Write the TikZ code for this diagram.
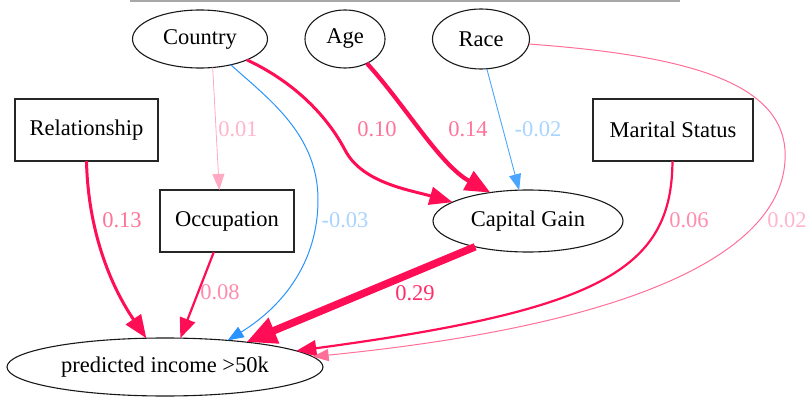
\documentclass[tikz,border=0pt]{standalone}
\usepackage{fontspec}
\setmainfont{Liberation Serif}
\usetikzlibrary{arrows.meta,shapes.geometric}

\definecolor{crimson}{HTML}{FF0D55}
\definecolor{rosepink}{HTML}{FF6F98}
\definecolor{palepink}{HTML}{FFA9C3}
\definecolor{skyblue}{HTML}{2A93FF}
\definecolor{lightsky}{HTML}{4AA5FF}
\definecolor{lblstrong}{HTML}{FF2D6A}
\definecolor{lblmid}{HTML}{FF7399}
\definecolor{lblsoft}{HTML}{FF8CAE}
\definecolor{lblpale}{HTML}{FFB5CB}
\definecolor{lblblue}{HTML}{A9D4FF}
\definecolor{framegray}{HTML}{A8A8A8}

\tikzset{
  txt/.style={font=\fontsize{22.5}{27}\selectfont},
  oval/.style={txt, ellipse, draw=black!90, line width=1.1pt, inner sep=0pt, outer sep=0pt},
  boxnode/.style={txt, rectangle, draw=black!85, line width=1.1pt, inner sep=0pt, outer sep=0pt},
  lbl/.style={txt, inner sep=0pt},
  tipA/.style={-{Triangle[length=16pt,width=12pt]}},
  tipB/.style={-{Triangle[length=20pt,width=16pt]}},
  tipC/.style={-{Triangle[length=23pt,width=18pt]}},
  tipD/.style={-{Triangle[length=25pt,width=21pt]}},
  tipE/.style={-{Triangle[length=30pt,width=26pt]}},
}

\begin{document}
\begin{tikzpicture}[x=1pt,y=-1pt]
\useasboundingbox (0,0) rectangle (806,398);

% frame rule along the top
\coordinate (ruleL) at (130,1);
\coordinate (ruleR) at (680,1);
\draw[framegray, line width=1.5pt] (ruleL) -- (ruleR);

% variables
\node[oval, minimum width=135pt, minimum height=58pt] (country) at (200,39) {Country};
\node[oval, minimum width=80pt, minimum height=58pt] (age) at (345,39) {Age};
\node[oval, minimum width=97pt, minimum height=60pt] (race) at (481,39) {Race};
\node[boxnode, minimum width=143pt, minimum height=62pt] (rel) at (86.5,130) {Relationship};
\node[boxnode, minimum width=160pt, minimum height=62pt] (marital) at (673,130) {Marital Status};
\node[boxnode, minimum width=134pt, minimum height=62pt] (occ) at (227,221) {Occupation};
\node[oval, minimum width=190pt, minimum height=62pt] (cg) at (528,221) {Capital Gain};
\node[oval, minimum width=316pt, minimum height=58pt] (pred) at (165,367) {predicted income >50k};

% effects on occupation and capital gain
\draw[palepink, line width=0.8pt, tipA] (country.-66) -- (occ.104);
\draw[crimson, line width=3pt, tipC] (country.-24)
  .. controls (290,80) and (325,112) .. (345,150)
  .. controls (362,183) and (410,190) .. (cg.166.5);
\draw[crimson, line width=4.2pt, tipD] (age.-48)
  .. controls (405,105) and (440,165) .. (cg.143.6);
\draw[lightsky, line width=0.9pt, tipA] (race.-79) -- (cg.106);

% effects on the prediction
\draw[skyblue, line width=1pt, tipA] (country.-40)
  .. controls (270,100) and (318,135) .. (318,200)
  .. controls (318,260) and (285,305) .. (pred.23);
\draw[crimson, line width=3pt, tipC] (rel.south)
  .. controls (88,230) and (110,285) .. (pred.123);
\draw[crimson, line width=2.2pt, tipB] (occ.-113) -- (pred.62);
\draw[crimson, line width=7.5pt, tipE] (cg.-154) -- (pred.17.5);
\draw[crimson, line width=2.2pt, tipB] (marital.-91)
  .. controls (672,270) and (600,310) .. (pred.7.5);
\draw[rosepink, line width=1pt, tipA] (race.-6)
  .. controls (680,55) and (780,80) .. (785,150)
  .. controls (790,235) and (680,320) .. (pred.4.5);

% weights
\node[lbl, text=lblpale] (w01) at (238,129) {0.01};
\node[lbl, text=lblmid] (w10) at (377,129) {0.10};
\node[lbl, text=lblmid] (w14) at (468,129) {0.14};
\node[lbl, text=lblblue] (w02n) at (538,129) {-0.02};
\node[lbl, text=lblmid] (w13) at (122,220) {0.13};
\node[lbl, text=lblblue] (w03n) at (345,220) {-0.03};
\node[lbl, text=lblsoft] (w06) at (689,220) {0.06};
\node[lbl, text=lblpale] (w02) at (787,220) {0.02};
\node[lbl, text=lblsoft] (w08) at (220,292) {0.08};
\node[lbl, text=lblstrong] (w29) at (415,293) {0.29};
\end{tikzpicture}
\end{document}
